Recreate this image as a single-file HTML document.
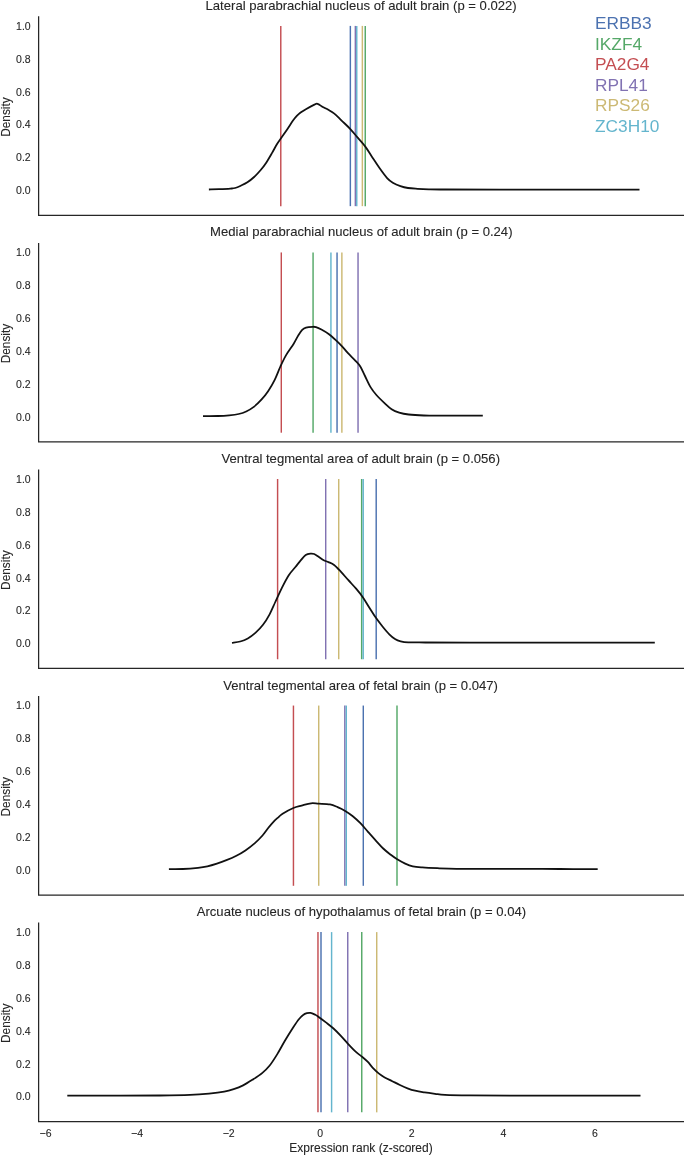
<!DOCTYPE html>
<html><head><meta charset="utf-8"><title>Density</title>
<style>
html,body{margin:0;padding:0;background:#fff;}
body{width:685px;height:1156px;overflow:hidden;}
svg{display:block;will-change:transform;}
text{font-family:"Liberation Sans",sans-serif;stroke-width:0.1px;}
.t,.k,.l{stroke:#262626;}
.t{font-size:13.1px;fill:#262626;text-anchor:middle;}
.k{font-size:10.5px;fill:#262626;}
.l{font-size:12.0px;fill:#262626;text-anchor:middle;}
.g{font-size:17.3px;}
</style></head><body>
<svg width="685" height="1156" viewBox="0 0 685 1156">
<rect width="685" height="1156" fill="#fff"/>
<g>
<text class="t" x="361.15" y="10.40">Lateral parabrachial nucleus of adult brain (p = 0.022)</text>
<line x1="350.35" y1="25.90" x2="350.35" y2="206.15" stroke="#4C72B0" stroke-width="1.45"/>
<line x1="365.25" y1="25.90" x2="365.25" y2="206.15" stroke="#55A868" stroke-width="1.45"/>
<line x1="280.78" y1="25.90" x2="280.78" y2="206.15" stroke="#C44E52" stroke-width="1.45"/>
<line x1="355.35" y1="25.90" x2="355.35" y2="206.15" stroke="#8172B2" stroke-width="1.45"/>
<line x1="362.35" y1="25.90" x2="362.35" y2="206.15" stroke="#CCB974" stroke-width="1.45"/>
<line x1="356.75" y1="25.90" x2="356.75" y2="206.15" stroke="#64B5CD" stroke-width="1.45"/>
<path d="M208.90 189.50 C210.58 189.45 215.42 189.35 219.00 189.20 C222.58 189.05 227.72 188.80 230.40 188.60 C233.08 188.40 233.37 188.48 235.10 188.00 C236.83 187.52 238.75 186.65 240.80 185.70 C242.85 184.75 245.18 183.75 247.40 182.30 C249.62 180.85 251.88 179.05 254.10 177.00 C256.32 174.95 258.65 172.43 260.70 170.00 C262.75 167.57 264.50 165.25 266.40 162.40 C268.30 159.55 270.35 155.92 272.10 152.90 C273.85 149.88 275.42 146.73 276.90 144.30 C278.38 141.87 279.27 140.82 281.00 138.30 C282.73 135.78 285.30 132.15 287.30 129.20 C289.30 126.25 291.42 122.82 293.00 120.60 C294.58 118.38 295.53 117.25 296.80 115.90 C298.07 114.55 299.02 113.67 300.60 112.50 C302.18 111.33 304.08 110.17 306.30 108.90 C308.52 107.63 312.03 105.75 313.90 104.90 C315.77 104.05 316.02 103.45 317.50 103.80 C318.98 104.15 321.00 106.00 322.80 107.00 C324.60 108.00 326.43 108.73 328.30 109.80 C330.17 110.87 331.78 111.60 334.00 113.40 C336.22 115.20 338.92 118.03 341.60 120.60 C344.28 123.17 347.42 125.95 350.10 128.80 C352.78 131.65 355.17 134.73 357.70 137.70 C360.23 140.67 362.93 143.43 365.30 146.60 C367.67 149.77 369.53 153.12 371.90 156.70 C374.27 160.28 376.97 164.53 379.50 168.10 C382.03 171.67 384.88 175.67 387.10 178.10 C389.32 180.53 390.58 181.37 392.80 182.70 C395.02 184.03 397.87 185.22 400.40 186.10 C402.93 186.98 405.15 187.55 408.00 188.00 C410.85 188.45 414.02 188.58 417.50 188.80 C420.98 189.02 424.32 189.18 428.90 189.30 C433.48 189.42 433.15 189.45 445.00 189.50 C456.85 189.55 477.50 189.57 500.00 189.60 C522.50 189.63 556.75 189.68 580.00 189.70 C603.25 189.72 629.58 189.70 639.50 189.70" fill="none" stroke="#111" stroke-width="1.78" stroke-linejoin="round" stroke-linecap="butt"/>
<path d="M38.62 16.98 V215.38 H683.38" fill="none" stroke="#262626" stroke-width="1.25" stroke-linecap="square"/>
<text class="k" text-anchor="end" x="30.70" y="194.25">0.0</text>
<text class="k" text-anchor="end" x="30.70" y="161.35">0.2</text>
<text class="k" text-anchor="end" x="30.70" y="128.45">0.4</text>
<text class="k" text-anchor="end" x="30.70" y="95.55">0.6</text>
<text class="k" text-anchor="end" x="30.70" y="62.65">0.8</text>
<text class="k" text-anchor="end" x="30.70" y="29.75">1.0</text>
<text class="l" style="font-size:11.85px" transform="translate(10.10 117.05) rotate(-90)">Density</text>
</g>
<g>
<text class="t" x="361.30" y="236.30">Medial parabrachial nucleus of adult brain (p = 0.24)</text>
<line x1="337.05" y1="252.45" x2="337.05" y2="432.70" stroke="#4C72B0" stroke-width="1.45"/>
<line x1="313.07" y1="252.45" x2="313.07" y2="432.70" stroke="#55A868" stroke-width="1.45"/>
<line x1="281.30" y1="252.45" x2="281.30" y2="432.70" stroke="#C44E52" stroke-width="1.45"/>
<line x1="358.04" y1="252.45" x2="358.04" y2="432.70" stroke="#8172B2" stroke-width="1.45"/>
<line x1="341.87" y1="252.45" x2="341.87" y2="432.70" stroke="#CCB974" stroke-width="1.45"/>
<line x1="330.93" y1="252.45" x2="330.93" y2="432.70" stroke="#64B5CD" stroke-width="1.45"/>
<path d="M203.00 416.20 C205.47 416.17 213.43 416.15 217.80 416.00 C222.17 415.85 225.72 415.63 229.20 415.30 C232.68 414.97 235.87 414.63 238.70 414.00 C241.53 413.37 243.68 412.68 246.20 411.50 C248.72 410.32 251.27 408.87 253.80 406.90 C256.33 404.93 259.02 402.32 261.40 399.70 C263.78 397.08 265.88 394.52 268.10 391.20 C270.32 387.88 272.65 383.92 274.70 379.80 C276.75 375.68 278.50 370.62 280.40 366.50 C282.30 362.38 283.88 358.90 286.10 355.10 C288.32 351.30 291.65 347.02 293.70 343.70 C295.75 340.38 296.98 337.50 298.40 335.20 C299.82 332.90 300.93 331.17 302.20 329.90 C303.47 328.63 304.25 328.12 306.00 327.60 C307.75 327.08 311.03 326.88 312.70 326.80 C314.37 326.72 314.55 326.65 316.00 327.10 C317.45 327.55 319.23 328.32 321.40 329.50 C323.57 330.68 326.47 332.30 329.00 334.20 C331.53 336.10 334.38 338.83 336.60 340.90 C338.82 342.97 340.40 344.55 342.30 346.60 C344.20 348.65 345.80 350.83 348.00 353.20 C350.20 355.57 353.45 358.58 355.50 360.80 C357.55 363.02 358.72 363.97 360.30 366.50 C361.88 369.03 363.27 372.52 365.00 376.00 C366.73 379.48 368.80 384.23 370.70 387.40 C372.60 390.57 374.18 392.47 376.40 395.00 C378.62 397.53 381.47 400.23 384.00 402.60 C386.53 404.97 389.07 407.53 391.60 409.20 C394.13 410.87 396.35 411.72 399.20 412.60 C402.05 413.48 404.58 414.02 408.70 414.50 C412.82 414.98 418.68 415.30 423.90 415.50 C429.12 415.70 430.18 415.67 440.00 415.70 C449.82 415.73 475.67 415.70 482.80 415.70" fill="none" stroke="#111" stroke-width="1.78" stroke-linejoin="round" stroke-linecap="butt"/>
<path d="M38.62 243.53 V441.93 H683.38" fill="none" stroke="#262626" stroke-width="1.25" stroke-linecap="square"/>
<text class="k" text-anchor="end" x="30.70" y="420.80">0.0</text>
<text class="k" text-anchor="end" x="30.70" y="387.90">0.2</text>
<text class="k" text-anchor="end" x="30.70" y="355.00">0.4</text>
<text class="k" text-anchor="end" x="30.70" y="322.10">0.6</text>
<text class="k" text-anchor="end" x="30.70" y="289.20">0.8</text>
<text class="k" text-anchor="end" x="30.70" y="256.30">1.0</text>
<text class="l" style="font-size:11.85px" transform="translate(10.10 343.60) rotate(-90)">Density</text>
</g>
<g>
<text class="t" x="360.80" y="462.90">Ventral tegmental area of adult brain (p = 0.056)</text>
<line x1="376.20" y1="479.00" x2="376.20" y2="659.25" stroke="#4C72B0" stroke-width="1.45"/>
<line x1="361.65" y1="479.00" x2="361.65" y2="659.25" stroke="#55A868" stroke-width="1.45"/>
<line x1="277.60" y1="479.00" x2="277.60" y2="659.25" stroke="#C44E52" stroke-width="1.45"/>
<line x1="325.70" y1="479.00" x2="325.70" y2="659.25" stroke="#8172B2" stroke-width="1.45"/>
<line x1="338.72" y1="479.00" x2="338.72" y2="659.25" stroke="#CCB974" stroke-width="1.45"/>
<line x1="363.22" y1="479.00" x2="363.22" y2="659.25" stroke="#64B5CD" stroke-width="1.45"/>
<path d="M232.00 642.80 C233.37 642.58 237.57 642.23 240.20 641.50 C242.83 640.77 245.27 639.83 247.80 638.40 C250.33 636.97 252.87 635.17 255.40 632.90 C257.93 630.63 260.63 627.90 263.00 624.80 C265.37 621.70 267.55 618.10 269.60 614.30 C271.65 610.50 273.25 606.42 275.30 602.00 C277.35 597.58 279.68 592.23 281.90 587.80 C284.12 583.37 286.38 578.82 288.60 575.40 C290.82 571.98 293.15 569.83 295.20 567.30 C297.25 564.77 299.15 562.23 300.90 560.20 C302.65 558.17 304.12 556.20 305.70 555.10 C307.28 554.00 308.98 553.78 310.40 553.60 C311.82 553.42 312.78 553.43 314.20 554.00 C315.62 554.57 317.32 555.97 318.90 557.00 C320.48 558.03 322.12 559.35 323.70 560.20 C325.28 561.05 326.67 561.30 328.40 562.10 C330.13 562.90 332.03 563.42 334.10 565.00 C336.17 566.58 338.42 569.07 340.80 571.60 C343.18 574.13 345.85 577.35 348.40 580.20 C350.95 583.05 353.70 585.87 356.10 588.70 C358.50 591.53 360.58 594.03 362.80 597.20 C365.02 600.37 367.18 604.22 369.40 607.70 C371.62 611.18 373.88 614.93 376.10 618.10 C378.32 621.27 380.50 624.00 382.70 626.70 C384.90 629.40 387.25 632.25 389.30 634.30 C391.35 636.35 393.10 637.83 395.00 639.00 C396.90 640.17 398.48 640.75 400.70 641.30 C402.92 641.85 404.18 642.10 408.30 642.30 C412.42 642.50 415.12 642.45 425.40 642.50 C435.68 642.55 447.57 642.57 470.00 642.60 C492.43 642.63 529.20 642.68 560.00 642.70 C590.80 642.72 639.00 642.70 654.80 642.70" fill="none" stroke="#111" stroke-width="1.78" stroke-linejoin="round" stroke-linecap="butt"/>
<path d="M38.62 470.08 V668.48 H683.38" fill="none" stroke="#262626" stroke-width="1.25" stroke-linecap="square"/>
<text class="k" text-anchor="end" x="30.70" y="647.35">0.0</text>
<text class="k" text-anchor="end" x="30.70" y="614.45">0.2</text>
<text class="k" text-anchor="end" x="30.70" y="581.55">0.4</text>
<text class="k" text-anchor="end" x="30.70" y="548.65">0.6</text>
<text class="k" text-anchor="end" x="30.70" y="515.75">0.8</text>
<text class="k" text-anchor="end" x="30.70" y="482.85">1.0</text>
<text class="l" style="font-size:11.85px" transform="translate(10.10 570.15) rotate(-90)">Density</text>
</g>
<g>
<text class="t" x="360.60" y="689.55">Ventral tegmental area of fetal brain (p = 0.047)</text>
<line x1="363.30" y1="705.55" x2="363.30" y2="885.80" stroke="#4C72B0" stroke-width="1.45"/>
<line x1="397.00" y1="705.55" x2="397.00" y2="885.80" stroke="#55A868" stroke-width="1.45"/>
<line x1="293.44" y1="705.55" x2="293.44" y2="885.80" stroke="#C44E52" stroke-width="1.45"/>
<line x1="344.82" y1="705.55" x2="344.82" y2="885.80" stroke="#8172B2" stroke-width="1.45"/>
<line x1="318.72" y1="705.55" x2="318.72" y2="885.80" stroke="#CCB974" stroke-width="1.45"/>
<line x1="346.30" y1="705.55" x2="346.30" y2="885.80" stroke="#64B5CD" stroke-width="1.45"/>
<path d="M168.90 869.10 C171.22 869.08 177.95 869.22 182.80 869.00 C187.65 868.78 193.90 868.25 198.00 867.80 C202.10 867.35 204.25 867.00 207.40 866.30 C210.55 865.60 213.73 864.62 216.90 863.60 C220.07 862.58 223.23 861.47 226.40 860.20 C229.57 858.93 232.73 857.63 235.90 856.00 C239.07 854.37 242.23 852.55 245.40 850.40 C248.57 848.25 252.05 845.58 254.90 843.10 C257.75 840.62 260.28 838.02 262.50 835.50 C264.72 832.98 266.30 830.37 268.20 828.00 C270.10 825.63 272.17 823.12 273.90 821.30 C275.63 819.48 277.15 818.37 278.60 817.10 C280.05 815.83 280.13 815.22 282.60 813.70 C285.07 812.18 290.23 809.35 293.40 808.00 C296.57 806.65 298.65 806.38 301.60 805.60 C304.55 804.82 308.25 803.62 311.10 803.30 C313.95 802.98 315.55 803.52 318.70 803.70 C321.85 803.88 326.85 803.83 330.00 804.40 C333.15 804.97 335.07 806.02 337.60 807.10 C340.13 808.18 342.67 809.38 345.20 810.90 C347.73 812.42 350.27 814.15 352.80 816.20 C355.33 818.25 357.87 820.60 360.40 823.20 C362.93 825.80 365.47 828.95 368.00 831.80 C370.53 834.65 373.07 837.52 375.60 840.30 C378.13 843.08 380.67 846.08 383.20 848.50 C385.73 850.92 388.47 853.00 390.80 854.80 C393.13 856.60 394.80 857.83 397.20 859.30 C399.60 860.77 402.60 862.43 405.20 863.60 C407.80 864.77 409.95 865.67 412.80 866.30 C415.65 866.93 418.20 867.08 422.30 867.40 C426.40 867.72 431.72 867.97 437.40 868.20 C443.08 868.43 448.48 868.68 456.40 868.80 C464.32 868.92 474.30 868.90 484.90 868.90 C495.50 868.90 507.48 868.78 520.00 868.80 C532.52 868.82 547.05 868.95 560.00 869.00 C572.95 869.05 591.42 869.08 597.70 869.10" fill="none" stroke="#111" stroke-width="1.78" stroke-linejoin="round" stroke-linecap="butt"/>
<path d="M38.62 696.63 V895.03 H683.38" fill="none" stroke="#262626" stroke-width="1.25" stroke-linecap="square"/>
<text class="k" text-anchor="end" x="30.70" y="873.90">0.0</text>
<text class="k" text-anchor="end" x="30.70" y="841.00">0.2</text>
<text class="k" text-anchor="end" x="30.70" y="808.10">0.4</text>
<text class="k" text-anchor="end" x="30.70" y="775.20">0.6</text>
<text class="k" text-anchor="end" x="30.70" y="742.30">0.8</text>
<text class="k" text-anchor="end" x="30.70" y="709.40">1.0</text>
<text class="l" style="font-size:11.85px" transform="translate(10.10 796.70) rotate(-90)">Density</text>
</g>
<g>
<text class="t" x="361.40" y="915.75">Arcuate nucleus of hypothalamus of fetal brain (p = 0.04)</text>
<line x1="321.00" y1="932.10" x2="321.00" y2="1112.35" stroke="#4C72B0" stroke-width="1.45"/>
<line x1="361.75" y1="932.10" x2="361.75" y2="1112.35" stroke="#55A868" stroke-width="1.45"/>
<line x1="317.97" y1="932.10" x2="317.97" y2="1112.35" stroke="#C44E52" stroke-width="1.45"/>
<line x1="347.75" y1="932.10" x2="347.75" y2="1112.35" stroke="#8172B2" stroke-width="1.45"/>
<line x1="376.72" y1="932.10" x2="376.72" y2="1112.35" stroke="#CCB974" stroke-width="1.45"/>
<line x1="331.60" y1="932.10" x2="331.60" y2="1112.35" stroke="#64B5CD" stroke-width="1.45"/>
<path d="M67.30 1095.70 C76.08 1095.70 104.55 1095.73 120.00 1095.70 C135.45 1095.67 148.33 1095.63 160.00 1095.50 C171.67 1095.37 181.83 1095.22 190.00 1094.90 C198.17 1094.58 203.30 1094.13 209.00 1093.60 C214.70 1093.07 220.08 1092.43 224.20 1091.70 C228.32 1090.97 230.55 1090.25 233.70 1089.20 C236.85 1088.15 239.95 1086.98 243.10 1085.40 C246.25 1083.82 249.43 1081.75 252.60 1079.70 C255.77 1077.65 259.25 1075.47 262.10 1073.10 C264.95 1070.73 267.17 1068.67 269.70 1065.50 C272.23 1062.33 274.77 1058.22 277.30 1054.10 C279.83 1049.98 282.37 1045.07 284.90 1040.80 C287.43 1036.53 290.13 1032.13 292.50 1028.50 C294.87 1024.87 297.05 1021.43 299.10 1019.00 C301.15 1016.57 302.90 1014.92 304.80 1013.90 C306.70 1012.88 308.75 1012.75 310.50 1012.90 C312.25 1013.05 314.00 1014.17 315.30 1014.80 C316.60 1015.43 316.53 1015.43 318.30 1016.70 C320.07 1017.97 323.37 1020.43 325.90 1022.40 C328.43 1024.37 330.97 1026.22 333.50 1028.50 C336.03 1030.78 338.57 1033.42 341.10 1036.10 C343.63 1038.78 346.18 1041.92 348.70 1044.60 C351.22 1047.28 354.00 1050.20 356.20 1052.20 C358.40 1054.20 360.00 1055.02 361.90 1056.60 C363.80 1058.18 365.70 1059.75 367.60 1061.70 C369.50 1063.65 371.40 1066.32 373.30 1068.30 C375.20 1070.28 377.10 1072.08 379.00 1073.60 C380.90 1075.12 382.48 1076.13 384.70 1077.40 C386.92 1078.67 389.77 1079.93 392.30 1081.20 C394.83 1082.47 397.37 1083.82 399.90 1085.00 C402.43 1086.18 404.97 1087.35 407.50 1088.30 C410.03 1089.25 412.25 1090.02 415.10 1090.70 C417.95 1091.38 421.28 1091.88 424.60 1092.40 C427.92 1092.92 431.60 1093.38 435.00 1093.80 C438.40 1094.22 439.17 1094.63 445.00 1094.90 C450.83 1095.17 457.50 1095.28 470.00 1095.40 C482.50 1095.52 501.67 1095.55 520.00 1095.60 C538.33 1095.65 559.92 1095.68 580.00 1095.70 C600.08 1095.72 630.42 1095.70 640.50 1095.70" fill="none" stroke="#111" stroke-width="1.78" stroke-linejoin="round" stroke-linecap="butt"/>
<path d="M38.62 923.18 V1121.58 H683.38" fill="none" stroke="#262626" stroke-width="1.25" stroke-linecap="square"/>
<text class="k" text-anchor="end" x="30.70" y="1100.45">0.0</text>
<text class="k" text-anchor="end" x="30.70" y="1067.55">0.2</text>
<text class="k" text-anchor="end" x="30.70" y="1034.65">0.4</text>
<text class="k" text-anchor="end" x="30.70" y="1001.75">0.6</text>
<text class="k" text-anchor="end" x="30.70" y="968.85">0.8</text>
<text class="k" text-anchor="end" x="30.70" y="935.95">1.0</text>
<text class="l" style="font-size:11.85px" transform="translate(10.10 1023.25) rotate(-90)">Density</text>
</g>
<text class="k" text-anchor="middle" x="45.52" y="1137.15">−6</text>
<text class="k" text-anchor="middle" x="137.08" y="1137.15">−4</text>
<text class="k" text-anchor="middle" x="228.64" y="1137.15">−2</text>
<text class="k" text-anchor="middle" x="320.20" y="1137.15">0</text>
<text class="k" text-anchor="middle" x="411.76" y="1137.15">2</text>
<text class="k" text-anchor="middle" x="503.32" y="1137.15">4</text>
<text class="k" text-anchor="middle" x="594.88" y="1137.15">6</text>
<text class="l" x="361.00" y="1151.50">Expression rank (z-scored)</text>
<text class="g" x="595.00" y="29.20" fill="#4C72B0">ERBB3</text>
<text class="g" x="595.00" y="49.77" fill="#55A868">IKZF4</text>
<text class="g" x="595.00" y="70.34" fill="#C44E52">PA2G4</text>
<text class="g" x="595.00" y="90.91" fill="#8172B2">RPL41</text>
<text class="g" x="595.00" y="111.48" fill="#CCB974">RPS26</text>
<text class="g" x="595.00" y="132.05" fill="#64B5CD">ZC3H10</text>
</svg>
</body></html>
